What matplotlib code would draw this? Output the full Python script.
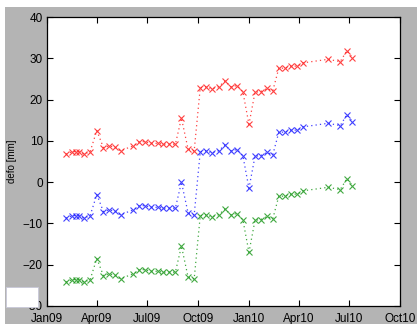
import numpy as np
import pandas as pd
from matplotlib import pyplot as plt
import matplotlib.dates as mdates
from matplotlib.patches import Rectangle

# acquisition dates
dates = ['2009-02-04', '2009-02-16', '2009-02-22', '2009-02-27', '2009-03-09', '2009-03-20',
         '2009-04-01', '2009-04-13', '2009-04-23', '2009-05-04', '2009-05-14', '2009-06-05',
         '2009-06-17', '2009-06-27', '2009-07-08', '2009-07-20', '2009-07-30', '2009-08-10',
         '2009-08-21', '2009-09-01', '2009-09-13', '2009-09-24', '2009-10-05', '2009-10-15',
         '2009-10-26', '2009-11-07', '2009-11-19', '2009-11-29', '2009-12-11', '2009-12-21',
         '2010-01-01', '2010-01-12', '2010-01-22', '2010-02-03', '2010-02-13', '2010-02-24',
         '2010-03-07', '2010-03-18', '2010-03-29', '2010-04-09', '2010-05-24', '2010-06-15',
         '2010-06-27', '2010-07-07']

defoRed = [6.75, 7.4, 7.4, 7.4, 6.75, 7.4, 12.5, 8.35, 8.8, 8.45, 7.6, 8.75, 9.8, 9.8,
           9.4, 9.4, 9.2, 9.2, 9.2, 15.5, 8.0, 7.55, 22.9, 23.1, 22.6, 23.1, 24.5, 23.1,
           23.4, 21.9, 14.0, 21.8, 21.9, 22.7, 22.1, 27.6, 27.6, 28.1, 28.1, 28.9, 29.75,
           29.2, 31.85, 30.15]

defoBlue = [-8.75, -8.1, -8.1, -8.1, -8.75, -8.1, -3.0, -7.15, -6.7, -7.05, -7.9, -6.75,
            -5.7, -5.7, -6.1, -6.1, -6.3, -6.3, -6.3, 0.0, -7.5, -7.95, 7.4, 7.6, 7.1, 7.6,
            9.0, 7.6, 7.9, 6.4, -1.5, 6.3, 6.4, 7.2, 6.6, 12.1, 12.1, 12.6, 12.6, 13.4,
            14.25, 13.7, 16.35, 14.65]

defoGreen = [-24.25, -23.6, -23.6, -23.6, -24.25, -23.6, -18.5, -22.65, -22.2, -22.55,
             -23.4, -22.25, -21.2, -21.2, -21.6, -21.6, -21.8, -21.8, -21.8, -15.5, -23.0,
             -23.45, -8.1, -7.9, -8.4, -7.9, -6.5, -7.9, -7.6, -9.1, -17.0, -9.2, -9.1,
             -8.3, -8.9, -3.4, -3.4, -2.9, -2.9, -2.1, -1.25, -1.8, 0.85, -0.85]

xticks = ['2009-01-01', '2009-04-01', '2009-07-01', '2009-10-01',
          '2010-01-01', '2010-04-01', '2010-07-01', '2010-10-01']
yticks = [-30, -20, -10, 0, 10, 20, 30, 40]

plt.rcParams['font.family'] = ['Liberation Sans', 'DejaVu Sans']

fig = plt.figure(figsize=(4.17, 3.24), dpi=100, facecolor='white')

# matlab-ish grey figure background (white strip on top / left)
fig.patches.append(Rectangle((5 / 417, 0), 1, (324 - 7) / 324, transform=fig.transFigure,
                             facecolor='#b4b4b4', edgecolor='none', zorder=-1))
# little white box that covers part of the -30 label
fig.patches.append(Rectangle((6 / 417, 17 / 324), 32 / 417, 20 / 324, transform=fig.transFigure,
                             facecolor='white', edgecolor='#c8c8d8', linewidth=0.6, zorder=10))

ax = fig.add_axes([47 / 417, 18 / 324, 353 / 417, 289 / 324])
ax.set_facecolor('white')

x = pd.to_datetime(dates)
dotted = (0, (1, 2.5))
for vals, col in [(defoRed, '#ff2020'), (defoBlue, '#2020ff'), (defoGreen, '#209a20')]:
    ax.plot(x, vals, color=col, linestyle=dotted, linewidth=0.9,
            marker='x', markersize=4.3, markeredgewidth=0.8, alpha=0.85)

ax.set_xlim(pd.Timestamp(xticks[0]), pd.Timestamp(xticks[-1]))
ax.set_ylim(-30, 40)
ax.set_xticks(pd.to_datetime(xticks))
ax.xaxis.set_major_formatter(mdates.DateFormatter('%b%y'))
ax.set_yticks(yticks)
ax.set_ylabel('defo [mm]', fontsize=7)

ax.tick_params(direction='in', top=True, right=True, length=4, width=0.8, labelsize=8.5, pad=3)
ax.tick_params(axis='x', pad=5)
for s in ax.spines.values():
    s.set_linewidth(0.9)
    s.set_color('black')

fig.savefig('out.png', dpi=100, facecolor=fig.get_facecolor())
